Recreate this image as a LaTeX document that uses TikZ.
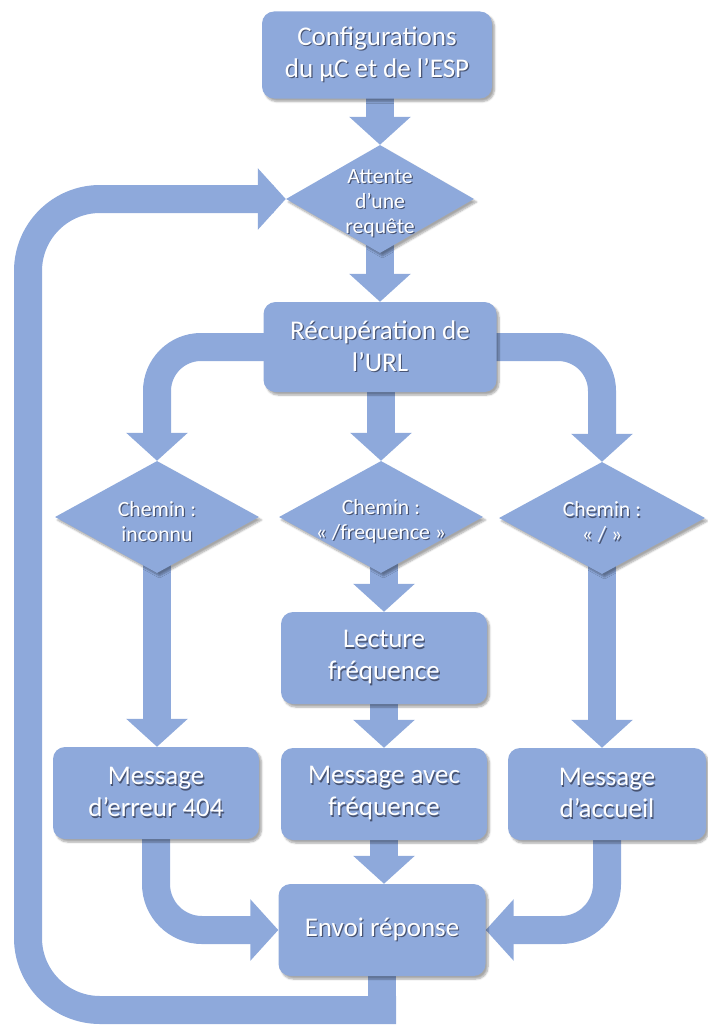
\documentclass[tikz,border=0pt]{standalone}
\usepackage{fontspec}
\setmainfont{Carlito}
\usetikzlibrary{shapes.geometric,arrows.meta,backgrounds,shadows.blur}

\definecolor{boxblue}{RGB}{142,169,219}
\definecolor{txtshadow}{RGB}{72,84,115}
% white lettering with a small dark offset copy underneath
\newcommand\sh[1]{\leavevmode\rlap{\kern1.2pt\raisebox{-1.2pt}{\textcolor{txtshadow}{#1}}}#1}

\begin{document}
\begin{tikzpicture}[x=1pt,y=-1pt,
  boxshadow/.style={blur shadow={shadow xshift=2.5pt,shadow yshift=-3pt,shadow opacity=35,shadow blur steps=6}},
  stepbox/.style={rectangle,rounded corners=12pt,fill=boxblue,minimum width=206pt,minimum height=92pt,
    inner sep=0pt,align=center,text=white,font=\fontsize{27}{32}\selectfont,boxshadow},
  decision/.style={diamond,fill=boxblue,minimum width=204pt,minimum height=112pt,inner sep=0pt,boxshadow},
  dtext/.style={text=white,align=center,font=\fontsize{21.7}{25}\selectfont,yshift=-5pt},
  flow/.style={draw=boxblue,line width=28pt,line join=miter,-{Triangle[width=60pt,length=28pt]}},
  band/.style={draw=boxblue,line width=28pt,line cap=rect},
]
\useasboundingbox (0,0) rectangle (707,1025);

% steps and decisions
\node[stepbox,minimum width=230pt,minimum height=87pt] (config) at (377,55)
  {\sh{Configurations}\\\sh{du µC et de l’ESP}};
\node[decision,minimum width=188pt,minimum height=108pt,
  label={[dtext]center:{\sh{Attente}\\\sh{d’une}\\\sh{requête}}}] (attente) at (380,199) {};
\node[stepbox,minimum width=233pt,minimum height=90pt] (recup) at (380,347)
  {\sh{Récupération de}\\\sh{l’URL}};

\node[decision,label={[dtext]center:{\sh{Chemin~:}\\\sh{inconnu}}}] (inconnu) at (157,517) {};
\node[decision,label={[dtext]center:{\sh{Chemin~:}\\\sh{«~/frequence~»}}}] (freq) at (381,517) {};
\node[decision,minimum width=206pt,label={[dtext]center:{\sh{Chemin~:}\\\sh{«~/~»}}}] (racine) at (602,518) {};

\node[stepbox] (lecture) at (384,658) {\sh{Lecture}\\\sh{fréquence}};

\node[stepbox] (err) at (156,793) {\sh{Message}\\\sh{d’erreur 404}};
\node[stepbox] (msgfreq) at (384,794) {\sh{Message avec}\\\sh{fréquence}};
\node[stepbox,minimum width=198pt] (accueil) at (607,794) {\sh{Message}\\\sh{d’accueil}};

\node[stepbox,minimum width=207pt] (envoi) at (382,930) {\sh{Envoi réponse}};

\coordinate (loopy) at (0,1010);
\coordinate (loopx) at (28,0);

% block arrows behind the shapes
\begin{scope}[on background layer]
  \draw[flow] (attente.north |- config.center) -- (attente.north);
  \draw[flow] (attente.center) -- (recup.north);

  \draw[flow] (freq.north |- recup.center) -- (freq.north);
  \draw[flow,rounded corners=44pt] (recup.center) -- (inconnu.north |- recup.center) -- (inconnu.north);
  \draw[flow,rounded corners=44pt] (recup.center) -- (racine.north |- recup.center) -- (racine.north);

  \draw[flow] (inconnu.center) -- (inconnu.center |- err.north);
  \draw[flow] (lecture.north |- freq.center) -- (lecture.north);
  \draw[flow] (racine.center) -- (racine.center |- accueil.north);

  \draw[flow] (lecture.center) -- (msgfreq.north);
  \draw[flow] (msgfreq.center) -- (msgfreq.center |- envoi.north);

  \draw[flow,rounded corners=46pt] (err.center) -- (err.center |- envoi.west) -- (envoi.west);
  \draw[flow,rounded corners=46pt] (accueil.center) -- (accueil.center |- envoi.east) -- (envoi.east);

  % return path to the waiting state
  \draw[band] (envoi.center) -- (envoi.center |- loopy);
  \draw[flow,rounded corners=72pt,line cap=rect] (envoi.center |- loopy) -- (loopx |- loopy)
    -- (loopx |- attente.west) -- (attente.west);
\end{scope}
\end{tikzpicture}
\end{document}
